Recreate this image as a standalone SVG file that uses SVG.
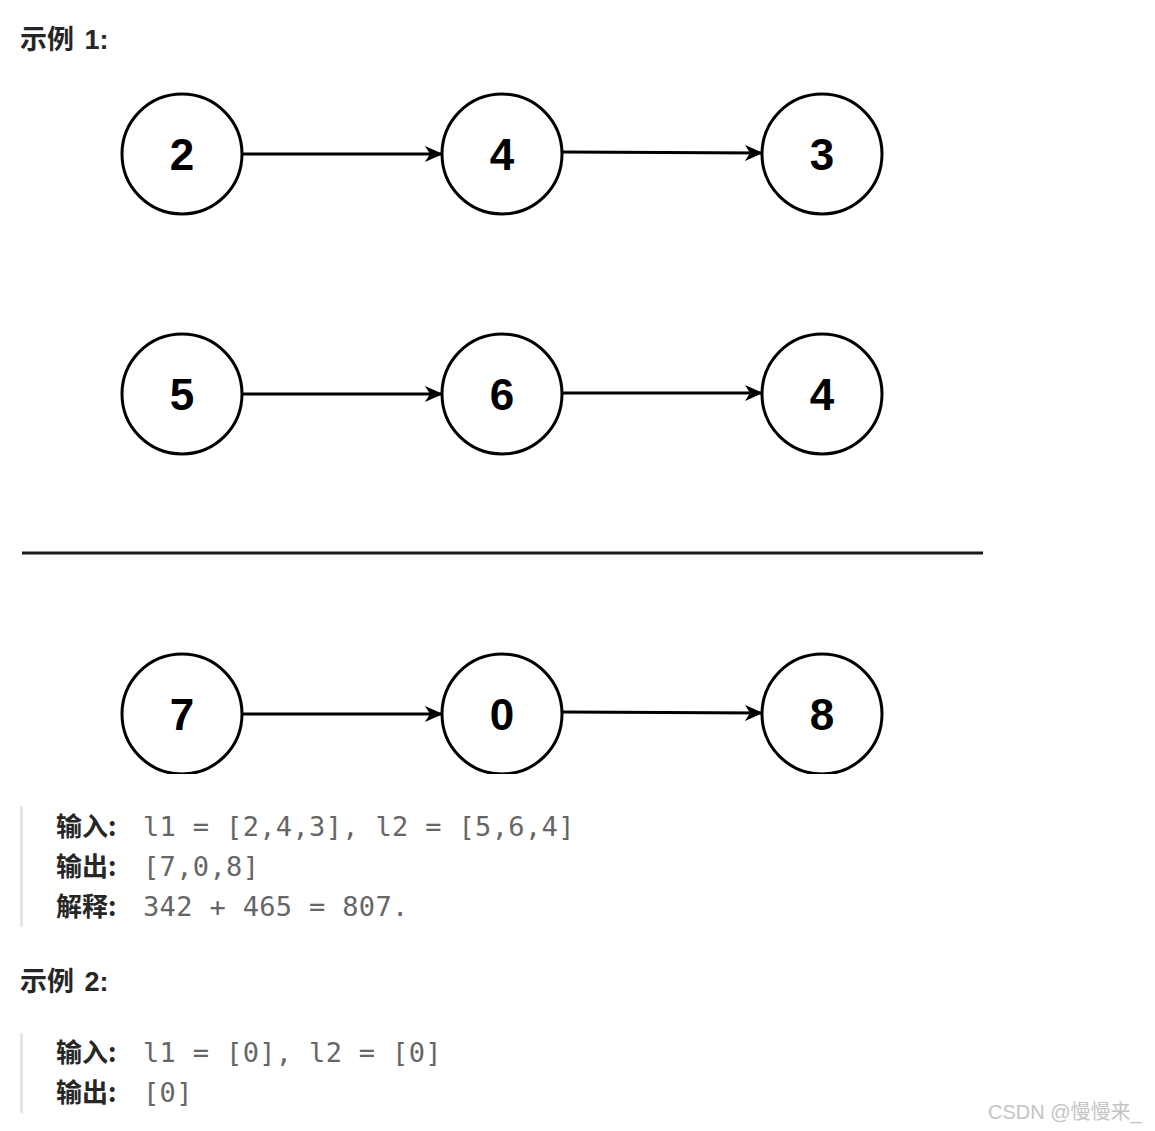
<svg xmlns="http://www.w3.org/2000/svg" width="1155" height="1131" viewBox="0 0 1155 1131">
<style>
.node circle{fill:#fff;stroke:#000;stroke-width:3}
.node text{font-family:"Liberation Sans",Arial,sans-serif;font-weight:bold;font-size:44px;text-anchor:middle;fill:#000}
.edge{stroke:#000;stroke-width:3;fill:none;marker-end:url(#arr)}
.h{font-family:"Liberation Sans","Noto Sans CJK SC",sans-serif;font-weight:bold;font-size:27px;word-spacing:3px;fill:#262626}
.lab{font-family:"Noto Sans CJK SC",sans-serif;font-weight:bold;font-size:26px;fill:#262626}
.code{font-family:"DejaVu Sans Mono","Liberation Mono",monospace;font-size:27px;letter-spacing:0.35px;fill:#666}
.bar{fill:#e6e6e6}
</style>
<defs>
<marker id="arr" markerWidth="18" markerHeight="16" refX="17" refY="8" orient="auto" markerUnits="userSpaceOnUse" viewBox="0 0 18 16">
<path d="M0,0 L18,8 L0,16 L5,8 Z" fill="#000"/>
</marker>
<clipPath id="clip3"><rect x="0" y="600" width="1155" height="174"/></clipPath>
</defs>
<rect width="1155" height="1131" fill="#fff"/>
<text class="h" x="20" y="49">示例 1:</text>
<g id="connectors">
<line class="edge" x1="243" y1="154" x2="442" y2="154"/>
<line class="edge" x1="563" y1="152" x2="762" y2="153"/>
<line class="edge" x1="243" y1="394" x2="442" y2="394"/>
<line class="edge" x1="563" y1="393" x2="762" y2="393"/>
<line class="edge" x1="243" y1="714" x2="442" y2="714"/>
<line class="edge" x1="563" y1="712" x2="762" y2="713"/>
</g>
<g id="n2" class="node"><circle cx="182" cy="154" r="60"/><text x="182" y="170">2</text></g>
<g id="n4a" class="node"><circle cx="502" cy="154" r="60"/><text x="502" y="170">4</text></g>
<g id="n3" class="node"><circle cx="822" cy="154" r="60"/><text x="822" y="170">3</text></g>
<g id="n5" class="node"><circle cx="182" cy="394" r="60"/><text x="182" y="410">5</text></g>
<g id="n6" class="node"><circle cx="502" cy="394" r="60"/><text x="502" y="410">6</text></g>
<g id="n4b" class="node"><circle cx="822" cy="394" r="60"/><text x="822" y="410">4</text></g>
<line id="divider" x1="22" y1="553" x2="983" y2="553" stroke="#1a1a1a" stroke-width="3"/>
<g clip-path="url(#clip3)">
<g id="n7" class="node"><circle cx="182" cy="714" r="60"/><text x="182" y="730">7</text></g>
<g id="n0" class="node"><circle cx="502" cy="714" r="60"/><text x="502" y="730">0</text></g>
<g id="n8" class="node"><circle cx="822" cy="714" r="60"/><text x="822" y="730">8</text></g>
</g>
<rect class="bar" x="20" y="806" width="3" height="121"/>
<text class="lab" x="56" y="836">输入:</text><text class="code" x="143" y="836">l1 = [2,4,3], l2 = [5,6,4]</text>
<text class="lab" x="56" y="876">输出:</text><text class="code" x="143" y="876">[7,0,8]</text>
<text class="lab" x="56" y="916">解释:</text><text class="code" x="143" y="916">342 + 465 = 807.</text>
<text class="h" x="20" y="991">示例 2:</text>
<rect class="bar" x="20" y="1033" width="3" height="80"/>
<text class="lab" x="56" y="1062">输入:</text><text class="code" x="143" y="1062">l1 = [0], l2 = [0]</text>
<text class="lab" x="56" y="1102">输出:</text><text class="code" x="143" y="1102">[0]</text>
<text x="988" y="1119" font-family="'Liberation Sans','Noto Sans CJK SC',sans-serif" font-size="20" fill="#c4c4c4">CSDN @慢慢来_</text>
</svg>
